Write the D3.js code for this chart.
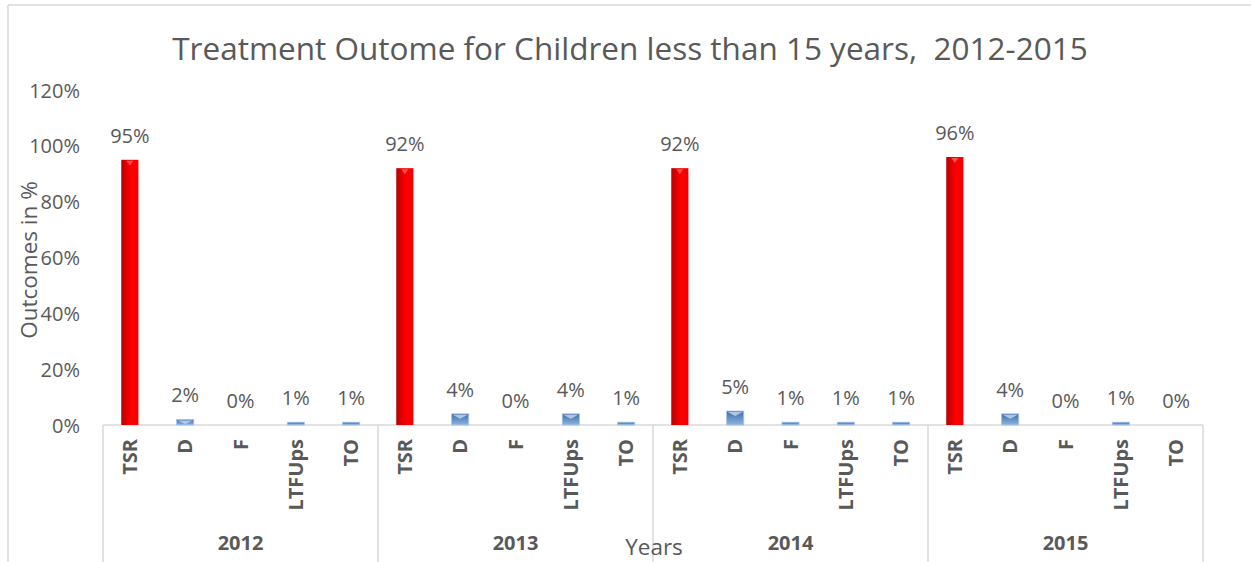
<!DOCTYPE html>
<html><head><meta charset="utf-8">
<script src="https://cdn.jsdelivr.net/npm/d3@7"></script>
<style>body{margin:0;background:#fff}svg{display:block}text{font-family:"Open Sans",sans-serif;white-space:pre}</style>
</head><body>
<svg id="c" width="1251" height="562"></svg>
<script>
const years = ["2012","2013","2014","2015"];
const categories = ["TSR","D","F","LTFUps","TO"];
const v2012 = [95,2,0,1,1];
const v2013 = [92,4,0,4,1];
const v2014 = [92,5,1,1,1];
const v2015 = [96,4,0,1,0];
const yTicks = [0,20,40,60,80,100,120];
const title = "Treatment Outome for Children less than 15 years,  2012-2015";
const yTitle = "Outcomes in %";
const xTitle = "Years";

const values = [v2012,v2013,v2014,v2015];
const svg = d3.select("#c");
const gray = "#595959", lineC = "#d9d9d9";

const defs = svg.append("defs");
const gr = defs.append("linearGradient").attr("id","red").attr("x1","0").attr("x2","1").attr("y1","0").attr("y2","0");
gr.append("stop").attr("offset","0").attr("stop-color","#b80000");
gr.append("stop").attr("offset","0.3").attr("stop-color","#e00000");
gr.append("stop").attr("offset","0.6").attr("stop-color","#ff0000");
gr.append("stop").attr("offset","1").attr("stop-color","#f00000");
const gb = defs.append("linearGradient").attr("id","blue").attr("x1","0").attr("x2","0").attr("y1","0").attr("y2","1");
gb.append("stop").attr("offset","0").attr("stop-color","#3d6ea8");
gb.append("stop").attr("offset","1").attr("stop-color","#8db4e2");

// border
svg.append("line").attr("x1",8).attr("x2",1251).attr("y1",5).attr("y2",5).attr("stroke",lineC).attr("stroke-width",1.5);
svg.append("line").attr("x1",8).attr("x2",8).attr("y1",5).attr("y2",562).attr("stroke",lineC).attr("stroke-width",1.5);

const y = d3.scaleLinear().domain([0,120]).range([425,90]);
const xg = d3.scaleBand().domain(years).range([103,1203]);
const xc = d3.scaleBand().domain(categories).range([0,xg.bandwidth()]).paddingInner(0.69).paddingOuter(0.33);

svg.append("text").attr("x",630).attr("y",60).attr("text-anchor","middle").attr("font-size",31.5).attr("fill",gray).text(title);

const ya = svg.append("g").attr("transform","translate(80,0)").call(d3.axisLeft(y).tickValues(yTicks).tickFormat(d=>d+"%").tickSize(0).tickPadding(0));
ya.select(".domain").remove();
ya.selectAll("text").attr("font-size",20).attr("fill",gray).attr("font-family","Open Sans").attr("dy","0.35em");

svg.append("text").attr("transform","translate(37,260) rotate(-90)").attr("text-anchor","middle").attr("font-size",22.5).attr("fill",gray).text(yTitle);

// axis lines
svg.append("line").attr("x1",103).attr("x2",1203).attr("y1",y(0)).attr("y2",y(0)).attr("stroke",lineC).attr("stroke-width",1.5);
const bounds = years.map(d=>xg(d)).concat([xg.range()[1]]);
svg.selectAll(".div").data(bounds).join("line").attr("x1",d=>d).attr("x2",d=>d).attr("y1",y(0)).attr("y2",562).attr("stroke",lineC).attr("stroke-width",1.5);

const data = [];
years.forEach((yr,i)=>categories.forEach((c,j)=>data.push({yr,c,v:values[i][j]})));

const g = svg.append("g");
data.forEach(d=>{
  const x0 = xg(d.yr)+xc(d.c), w = xc.bandwidth();
  const top = y(d.v), h = y(0)-top;
  if (d.c==="TSR") {
    g.append("rect").attr("x",x0).attr("y",top).attr("width",w).attr("height",h).attr("fill","url(#red)");
    g.append("path").attr("d",`M${x0+w*0.3},${top+1}L${x0+w*0.7},${top+1}L${x0+w/2},${top+6}Z`).attr("fill","#ff6060").attr("opacity",0.8);
  } else if (h>0) {
    g.append("rect").attr("x",x0).attr("y",top).attr("width",w).attr("height",h).attr("fill","url(#blue)").attr("stroke","#a9c6ea").attr("stroke-width",0.8);
    if (h>4) g.append("path").attr("d",`M${x0+1},${top+1}L${x0+w-1},${top+1}L${x0+w/2},${top+Math.min(5,h-1)}Z`).attr("fill","#c5d9f1").attr("opacity",0.8);
  }
  g.append("text").attr("x",x0+w/2).attr("y",top-17).attr("text-anchor","middle").attr("font-size",20).attr("fill",gray).text(d.v+"%");
  g.append("text").attr("transform",`translate(${x0+w/2+7},439) rotate(-90)`).attr("text-anchor","end").attr("font-size",20).attr("font-weight","bold").attr("fill",gray).text(d.c);
});

svg.selectAll(".yr").data(years).join("text").attr("x",d=>xg(d)+xg.bandwidth()/2).attr("y",550).attr("text-anchor","middle").attr("font-size",20).attr("font-weight","bold").attr("fill",gray).text(d=>d);

svg.append("text").attr("x",654).attr("y",555).attr("text-anchor","middle").attr("font-size",22.5).attr("fill",gray).text(xTitle);
</script>
</body></html>
